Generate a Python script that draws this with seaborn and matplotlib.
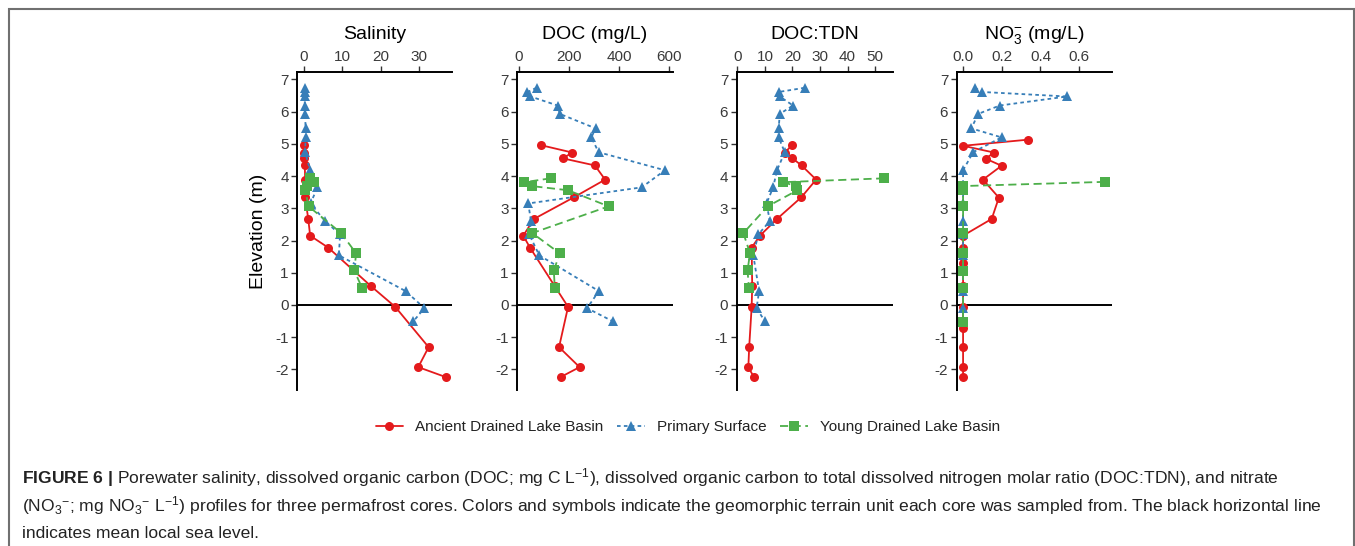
import matplotlib
matplotlib.use("Agg")
import matplotlib.pyplot as plt
from matplotlib.patches import Rectangle
from matplotlib.ticker import FormatStrFormatter
import numpy as np
import pandas as pd
import seaborn as sns

# ---------------- data ----------------
sites = ["Ancient Drained Lake Basin", "Primary Surface", "Young Drained Lake Basin"]

# Ancient Drained Lake Basin (red)
adlb_elev = [4.96, 4.73, 4.55, 4.33, 3.89, 3.34, 2.67, 2.15, 1.78, 0.58, -0.06, -1.31, -1.93, -2.24]
adlb_sal = [0.1, 0.0, 0.0, 0.2, 0.3, 0.3, 1.1, 1.6, 6.3, 17.5, 23.8, 32.5, 29.8, 37.0]
adlb_doc = [87, 213, 175, 303, 344, 219, 60, 17, 44, 143, 196, 160, 242, 166]
adlb_tdn = [19.9, 17.2, 20.0, 23.3, 28.6, 23.2, 14.4, 8.2, 5.2, 5.4, 5.2, 4.3, 4.0, 6.0]
adlb_no3_elev = [5.13, 4.94, 4.73, 4.54, 4.32, 3.89, 3.33, 2.67, 2.15, 1.77, 1.29, 0.60, -0.06, -0.72, -1.31, -1.93, -2.24]
adlb_no3 = [0.336, 0.0, 0.16, 0.117, 0.199, 0.103, 0.185, 0.148, 0, 0, 0, 0, 0, 0, 0, 0, 0]

# Primary Surface (blue)
ps_elev = [6.74, 6.61, 6.47, 6.19, 5.93, 5.48, 5.20, 4.74, 4.18, 3.65, 3.15, 2.60, 2.19, 1.54, 0.43, -0.10, -0.51]
ps_sal = [0.2, 0.2, 0.2, 0.2, 0.3, 0.4, 0.4, 0.3, 1.6, 3.5, 1.7, 5.5, 9.4, 9.1, 26.5, 31.4, 28.5]
ps_doc = [70, 34, 46, 154, 163, 306, 289, 318, 583, 490, 37, 48, 41, 81, 319, 272, 375]
ps_tdn = [24.4, 15.0, 15.4, 20.2, 15.4, 15.0, 15.0, 17.2, 14.4, 13.0, 10.6, 11.8, 7.6, 5.8, 7.9, 7.0, 10.0]
ps_no3 = [0.060, 0.100, 0.538, 0.19, 0.078, 0.043, 0.199, 0.052, 0, 0, 0, 0, 0, 0, 0, 0, 0]

# Young Drained Lake Basin (green)
ydlb_elev = [3.93, 3.81, 3.69, 3.56, 3.06, 2.23, 1.60, 1.07, 0.54]
ydlb_sal = [1.6, 2.6, 0.7, 0.3, 1.2, 9.7, 13.6, 13.1, 15.1]
ydlb_doc = [127, 21, 50, 196, 358, 53, 163, 139, 143]
ydlb_tdn = [53.3, 16.5, 21.4, 21.8, 11.0, 2.2, 4.6, 3.7, 4.2]
ydlb_no3_elev = [3.82, 3.69, 3.56, 3.08, 2.22, 1.60, 1.06, 0.53, -0.52]
ydlb_no3 = [0.733, 0, 0, 0, 0, 0, 0, 0, 0]

panel_titles = ["Salinity", "DOC (mg/L)", "DOC:TDN", r"NO$_3^{-}$ (mg/L)"]
sal_ticks = [0, 10, 20, 30]
doc_ticks = [0, 200, 400, 600]
tdn_ticks = [0, 10, 20, 30, 40, 50]
no3_ticks = [0.0, 0.2, 0.4, 0.6]
elev_ticks = [-2, -1, 0, 1, 2, 3, 4, 5, 6, 7]

caption_lines = [
    r"$\bf{FIGURE\ 6\ |}$ Porewater salinity, dissolved organic carbon (DOC; mg C L$^{-1}$), dissolved organic carbon to total dissolved nitrogen molar ratio (DOC:TDN), and nitrate",
    r"(NO$_3$$^{-}$; mg NO$_3$$^{-}$ L$^{-1}$) profiles for three permafrost cores. Colors and symbols indicate the geomorphic terrain unit each core was sampled from. The black horizontal line",
    "indicates mean local sea level.",
]


def long_df(parts):
    frames = []
    for site, elev, val in parts:
        frames.append(pd.DataFrame({"site": site, "elev": elev, "value": val}))
    return pd.concat(frames, ignore_index=True)


panels = [
    long_df([(sites[0], adlb_elev, adlb_sal), (sites[1], ps_elev, ps_sal), (sites[2], ydlb_elev, ydlb_sal)]),
    long_df([(sites[0], adlb_elev, adlb_doc), (sites[1], ps_elev, ps_doc), (sites[2], ydlb_elev, ydlb_doc)]),
    long_df([(sites[0], adlb_elev, adlb_tdn), (sites[1], ps_elev, ps_tdn), (sites[2], ydlb_elev, ydlb_tdn)]),
    long_df([(sites[0], adlb_no3_elev, adlb_no3), (sites[1], ps_elev, ps_no3), (sites[2], ydlb_no3_elev, ydlb_no3)]),
]

# ---------------- style ----------------
sns.set_style("white")
plt.rcParams["font.family"] = ["Liberation Sans", "DejaVu Sans"]
plt.rcParams["mathtext.fontset"] = "custom"
plt.rcParams["mathtext.rm"] = "Liberation Sans"
plt.rcParams["mathtext.it"] = "Liberation Sans:italic"
plt.rcParams["mathtext.bf"] = "Liberation Sans:bold"
plt.rcParams["mathtext.sf"] = "Liberation Sans"
plt.rcParams["axes.unicode_minus"] = False

palette = {sites[0]: "#E41A1C", sites[1]: "#377EB8", sites[2]: "#4DAF4A"}
markers = {sites[0]: "o", sites[1]: "^", sites[2]: "s"}
dashes = {sites[0]: "", sites[1]: (2.0, 1.8), sites[2]: (4.5, 2.5)}

W, H = 1355, 546
fig = plt.figure(figsize=(W / 100, H / 100), dpi=100)

ax_left_px = [297, 517, 736.5, 956.5]
ax_w_px = [155, 156, 156, 155.5]
top_px, bot_px = 72, 390
xlims = [(-1.83, 38.6), (-7.9, 615), (-0.3, 56.3), (-0.034, 0.77)]
xticks = [sal_ticks, doc_ticks, tdn_ticks, no3_ticks]
ylim = (-2.64, 7.23)

tick_color = "#3a3a3a"
axes = []
for i in range(4):
    ax = fig.add_axes([ax_left_px[i] / W, 1 - bot_px / H, ax_w_px[i] / W, (bot_px - top_px) / H])
    axes.append(ax)
    sns.lineplot(
        data=panels[i], x="value", y="elev", hue="site", style="site",
        hue_order=sites, style_order=sites, palette=palette,
        markers=markers, dashes=dashes, sort=False, orient="y",
        estimator=None, ax=ax, legend=(i == 0),
        linewidth=1.3, markersize=6.5, markeredgewidth=0,
    )
    ax.axhline(0, color="black", lw=1.4, zorder=0.5)
    ax.set_xlim(*xlims[i])
    ax.set_ylim(*ylim)
    ax.set_xticks(xticks[i])
    ax.set_yticks(elev_ticks)
    if i == 3:
        ax.xaxis.set_major_formatter(FormatStrFormatter("%.1f"))
    ax.xaxis.tick_top()
    ax.set_xlabel("")
    ax.set_ylabel("Elevation (m)" if i == 0 else "", fontsize=14, color="black", labelpad=6)
    for s in ["right", "bottom"]:
        ax.spines[s].set_visible(False)
    for s in ["top", "left"]:
        ax.spines[s].set_color("black")
        ax.spines[s].set_linewidth(1.4)
    ax.tick_params(axis="both", direction="out", length=4, width=1.0, color="#333333",
                   labelsize=11, labelcolor=tick_color, pad=2)
    ax.tick_params(axis="x", top=True, bottom=False, labeltop=True, labelbottom=False)
    ax.tick_params(axis="y", left=True, right=False)
    ax.set_title(panel_titles[i], fontsize=14, color="black", pad=8)
    ax.grid(False)

handles, labels = axes[0].get_legend_handles_labels()
axes[0].get_legend().remove()
fig.legend(handles, labels, loc="center", bbox_to_anchor=(688 / W, 1 - 427 / H), ncol=3,
           frameon=False, fontsize=11, handlelength=1.8, handletextpad=0.8,
           columnspacing=0.9, labelcolor="#222222")

# caption frame
fig.add_artist(Rectangle((9 / W, -0.05), (1354 - 9) / W, (H - 9) / H + 0.05,
                         transform=fig.transFigure, fill=False, edgecolor="#707070", lw=1.5))

cap_y = [478, 506, 534]
for line, y in zip(caption_lines, cap_y):
    fig.text(22 / W, 1 - y / H, line, fontsize=12.6, color="#222222", ha="left", va="center")

fig.savefig("out.png", dpi=100)
